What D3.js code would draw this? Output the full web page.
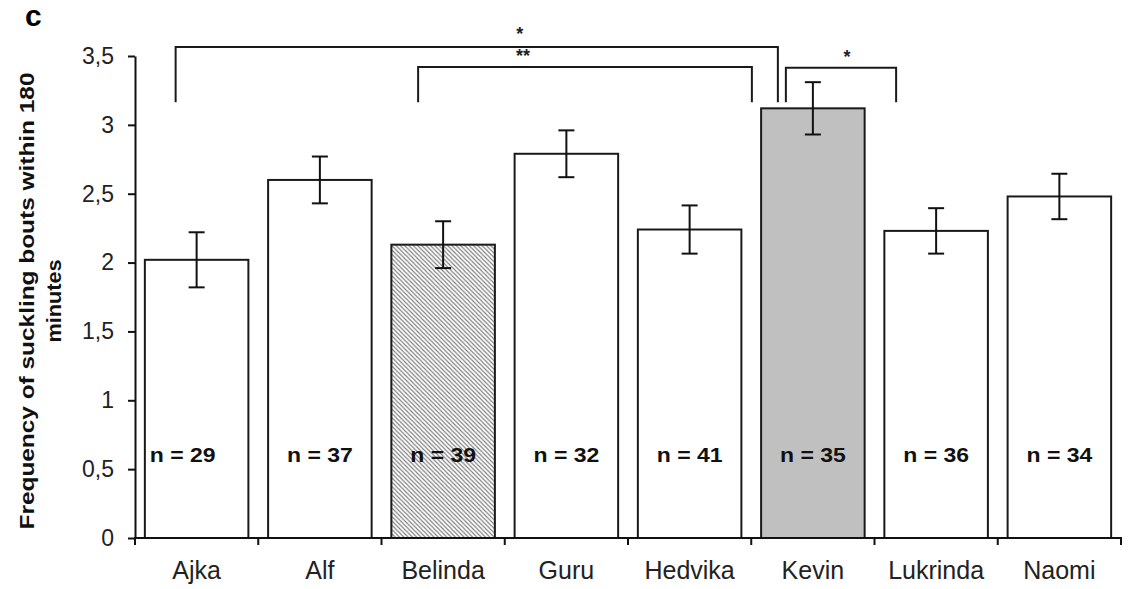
<!DOCTYPE html>
<html>
<head>
<meta charset="utf-8">
<script src="https://cdn.jsdelivr.net/npm/d3@7"></script>
<style>
  html, body { margin: 0; padding: 0; background: #fff; }
  svg { display: block; }
  text { font-family: "Liberation Sans", Arial, sans-serif; }
</style>
</head>
<body>
<svg id="chart" width="1144" height="589"></svg>
<script>
// Suckling frequency per calf: mean bouts within 180 minutes, with standard error
const calves = ["Ajka", "Alf", "Belinda", "Guru", "Hedvika", "Kevin", "Lukrinda", "Naomi"];
const meanBouts = [2.02, 2.60, 2.13, 2.79, 2.24, 3.12, 2.23, 2.48];
const stdError = [0.20, 0.17, 0.17, 0.17, 0.175, 0.19, 0.165, 0.165];
const sampleSize = [29, 37, 39, 32, 41, 35, 36, 34];
const yTicks = [0, 0.5, 1, 1.5, 2, 2.5, 3, 3.5];
const yTickLabels = ["0", "0,5", "1", "1,5", "2", "2,5", "3", "3,5"];

// Pairwise comparisons shown as brackets above the bars
const compFrom = ["Ajka", "Belinda", "Kevin"];
const compTo = ["Kevin", "Kevin", "Lukrinda"];
const compStars = ["*", "**", "*"];
const compLevel = [3.565, 3.42, 3.415];
const legBottom = 3.165;

const svg = d3.select("#chart");

const x = d3.scaleBand()
  .domain(calves)
  .range([135, 1121])
  .paddingInner(0.16)
  .paddingOuter(0.08);

const y = d3.scaleLinear().domain([0, 3.5]).range([538, 56]);

const fillFor = name => name === "Kevin" ? "#c0c0c0" : (name === "Belinda" ? "url(#hatch)" : "#fff");

// diagonal hatch for Belinda
const defs = svg.append("defs");
const pat = defs.append("pattern")
  .attr("id", "hatch")
  .attr("patternUnits", "userSpaceOnUse")
  .attr("width", 4.3).attr("height", 4.3);
pat.append("rect").attr("width", 4.3).attr("height", 4.3).attr("fill", "#fff");
pat.append("path")
  .attr("d", "M-1,-1 L5.3,5.3 M-1,3.3 L1,5.3 M3.3,-1 L5.3,1")
  .attr("stroke", "#7a7a7a").attr("stroke-width", 1.1);

// bars
const data = calves.map((c, i) => ({ c, m: meanBouts[i], se: stdError[i], n: sampleSize[i] }));

svg.append("g").selectAll("rect")
  .data(data)
  .join("rect")
  .attr("x", d => x(d.c))
  .attr("y", d => y(d.m))
  .attr("width", x.bandwidth())
  .attr("height", d => y(0) - y(d.m))
  .attr("fill", d => fillFor(d.c))
  .attr("stroke", "#1a1a1a")
  .attr("stroke-width", 2);

// error bars
const eb = svg.append("g").attr("stroke", "#111").attr("stroke-width", 2);
data.forEach(d => {
  const cx = x(d.c) + x.bandwidth() / 2;
  eb.append("line").attr("x1", cx).attr("x2", cx).attr("y1", y(d.m + d.se)).attr("y2", y(d.m - d.se));
  eb.append("line").attr("x1", cx - 8).attr("x2", cx + 8).attr("y1", y(d.m + d.se)).attr("y2", y(d.m + d.se));
  eb.append("line").attr("x1", cx - 8).attr("x2", cx + 8).attr("y1", y(d.m - d.se)).attr("y2", y(d.m - d.se));
});

// sample sizes inside bars
svg.append("g").selectAll("text")
  .data(data)
  .join("text")
  .attr("transform", (d, i) => {
    const cx = x(d.c) + x.bandwidth() / 2 + (i === 0 ? -14 : 0);
    return `translate(${cx},${y(0.5) - 7}) scale(1.18,1)`;
  })
  .attr("text-anchor", "middle")
  .attr("font-size", 19.5)
  .attr("font-weight", "bold")
  .attr("fill", "#111")
  .text(d => `n = ${d.n}`);

// y axis
const yAxis = d3.axisLeft(y)
  .tickValues(yTicks)
  .tickFormat((d, i) => yTickLabels[i])
  .tickSize(7)
  .tickSizeOuter(0)
  .tickPadding(14);
const gy = svg.append("g").attr("transform", "translate(135,0)").call(yAxis);
gy.select(".domain").attr("stroke", "#111").attr("stroke-width", 2);
gy.selectAll(".tick line").attr("stroke", "#111").attr("stroke-width", 2);
gy.selectAll(".tick text")
  .attr("font-size", 23)
  .attr("fill", "#222")
  .attr("font-family", "Liberation Sans, Arial, sans-serif");

// x axis with ticks between categories
const gx = svg.append("g").attr("transform", "translate(0,538)");
gx.append("line").attr("x1", 134).attr("x2", 1122).attr("stroke", "#111").attr("stroke-width", 2);
const bounds = calves.map(c => x(c) - x.step() * x.paddingInner() / 2).concat([x.range()[1]]);
gx.selectAll(".bt").data(bounds).join("line")
  .attr("x1", d => d).attr("x2", d => d).attr("y1", 0).attr("y2", 7)
  .attr("stroke", "#111").attr("stroke-width", 2);
gx.selectAll(".cat").data(calves).join("text")
  .attr("x", c => x(c) + x.bandwidth() / 2)
  .attr("y", 41)
  .attr("text-anchor", "middle")
  .attr("font-size", 25)
  .attr("fill", "#222")
  .text(c => c);

// y axis title
const title = svg.append("g").attr("transform", "translate(0,301) rotate(-90)");
title.append("text")
  .attr("x", 0).attr("y", 34)
  .attr("text-anchor", "middle")
  .attr("font-size", 20)
  .attr("font-weight", "bold")
  .attr("fill", "#111")
  .attr("textLength", 457)
  .attr("lengthAdjust", "spacingAndGlyphs")
  .text("Frequency of suckling bouts within 180");
title.append("text")
  .attr("x", 0).attr("y", 61)
  .attr("text-anchor", "middle")
  .attr("font-size", 20)
  .attr("font-weight", "bold")
  .attr("fill", "#111")
  .attr("textLength", 83)
  .attr("lengthAdjust", "spacingAndGlyphs")
  .text("minutes");

// significance brackets: leg offsets from bar centres and star positions
const legShift = [[-21, -35], [-25, -61], [-27, -40]];
const starShift = [43, -62, 6];
const starLift = [18, 16, 16];
const gb = svg.append("g");
compFrom.forEach((from, i) => {
  const x1 = x(from) + x.bandwidth() / 2 + legShift[i][0];
  const x2 = x(compTo[i]) + x.bandwidth() / 2 + legShift[i][1];
  const yl = y(compLevel[i]);
  gb.append("path")
    .attr("d", `M${x1},${y(legBottom)} V${yl} H${x2} V${y(legBottom)}`)
    .attr("fill", "none")
    .attr("stroke", "#1a1a1a")
    .attr("stroke-width", 2);
  gb.append("text")
    .attr("x", (x1 + x2) / 2 + starShift[i])
    .attr("y", yl - starLift[i] + 11)
    .attr("text-anchor", "middle")
    .attr("font-size", 18)
    .attr("font-weight", "bold")
    .attr("fill", "#222")
    .text(compStars[i]);
});

// panel letter
svg.append("text")
  .attr("x", 25).attr("y", 26)
  .attr("font-family", "Liberation Serif, Times New Roman, serif")
  .attr("font-size", 30)
  .attr("font-weight", "bold")
  .attr("fill", "#000")
  .text("c");
</script>
</body>
</html>
